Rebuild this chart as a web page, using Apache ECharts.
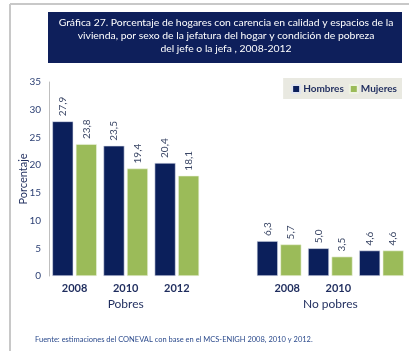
<!DOCTYPE html>
<html>
<head>
<meta charset="utf-8">
<script src="https://cdn.jsdelivr.net/npm/echarts@6/dist/echarts.min.js"></script>
<style>
  html, body { margin: 0; padding: 0; background: #ffffff; }
  #chart { width: 409px; height: 351px; }
</style>
</head>
<body>
<div id="chart"></div>
<script>
// Households lacking adequate housing quality and space, by sex of the head of household
const years = ['2008', '2010', '2012'];
const groups = ['Pobres', 'No pobres'];
const pobresHombres = [27.9, 23.5, 20.4];
const pobresMujeres = [23.8, 19.4, 18.1];
const noPobresHombres = [6.3, 5.0, 4.6];
const noPobresMujeres = [5.7, 3.5, 4.6];
// year labels under each slot (one empty spacer slot between the groups)
const tickLabels = ['2008', '2010', '2012', '', '2008', '2010', ''];
const yTicks = [0, 5, 10, 15, 20, 25, 30, 35];

const navy = '#0b1f5b';
const green = '#9bbb59';
const textNavy = '#1f2d5e';
const fontFam = 'Lato, "Open Sans", sans-serif';

// one slot per bar pair, with a blank slot separating the two groups
const slots = tickLabels.map((_, i) => String(i));
const hombres = [...pobresHombres, null, ...noPobresHombres];
const mujeres = [...pobresMujeres, null, ...noPobresMujeres];
const groupSlot = { 1: groups[0], 5: groups[1] };

const fmt = v => v.toFixed(1).replace('.', ',');

const valueLabel = {
  show: true,
  position: 'top',
  rotate: 90,
  align: 'left',
  verticalAlign: 'middle',
  distance: 5,
  fontSize: 10,
  fontFamily: fontFam,
  color: '#3b4766',
  formatter: p => fmt(p.value)
};

const chart = echarts.init(document.getElementById('chart'), null, { renderer: 'canvas' });

chart.setOption({
  animation: false,
  textStyle: { fontFamily: fontFam },
  graphic: [
    // page frame
    { type: 'line', shape: { x1: 10, y1: 4, x2: 409, y2: 4 }, style: { stroke: '#c8c8c8', lineWidth: 2 }, silent: true },
    { type: 'line', shape: { x1: 10, y1: 4, x2: 10, y2: 351 }, style: { stroke: '#c8c8c8', lineWidth: 2 }, silent: true },
    // title band
    { type: 'rect', shape: { x: 48, y: 12, width: 354, height: 51 }, style: { fill: '#0e1f5b' }, silent: true },
    {
      type: 'text', x: 226, y: 16,
      style: {
        text: 'Gráfica 27. Porcentaje de hogares con carencia en calidad y espacios de la\nvivienda, por sexo de la jefatura del hogar y condición de pobreza\ndel jefe o la jefa , 2008-2012',
        fill: '#ffffff', font: '10.4px ' + fontFam, align: 'center', verticalAlign: 'top', lineHeight: 13
      },
      silent: true
    },
    // source note
    {
      type: 'text', x: 35, y: 340,
      style: {
        text: 'Fuente: estimaciones del CONEVAL con base en el MCS-ENIGH 2008, 2010 y 2012.',
        fill: '#2b4a8c', font: '7.5px ' + fontFam, align: 'left', verticalAlign: 'middle'
      },
      silent: true
    }
  ],
  legend: {
    right: 7,
    top: 78,
    backgroundColor: '#e9e9e1',
    padding: [6, 5, 5, 8],
    itemWidth: 8,
    itemHeight: 8,
    itemGap: 5,
    icon: 'rect',
    textStyle: { color: textNavy, fontSize: 10, fontWeight: 'bold', fontFamily: fontFam, padding: [0, 0, 0, -2] },
    data: ['Hombres', 'Mujeres']
  },
  grid: { left: 49, right: 2, top: 82, bottom: 75, containLabel: false },
  xAxis: [
    {
      type: 'category',
      data: slots,
      axisLine: { show: false },
      axisTick: { show: false },
      axisLabel: {
        interval: 0,
        margin: 7,
        fontSize: 11,
        fontWeight: 'bold',
        color: textNavy,
        formatter: (v, i) => {
          const t = tickLabels[i];
          if (!t) return '';
          return i >= 4 ? '{s|' + t + '}' : t;
        },
        rich: { s: { padding: [0, 0, 0, 16], fontSize: 11, fontWeight: 'bold', color: textNavy, fontFamily: fontFam } }
      }
    },
    {
      type: 'category',
      data: slots,
      position: 'bottom',
      offset: 20,
      axisLine: { show: false },
      axisTick: { show: false },
      axisLabel: {
        interval: 0,
        margin: 2,
        fontSize: 12,
        color: textNavy,
        formatter: (v, i) => groupSlot[i] || ''
      }
    }
  ],
  yAxis: {
    type: 'value',
    min: yTicks[0],
    max: yTicks[yTicks.length - 1],
    interval: 5,
    name: 'Porcentaje',
    nameLocation: 'middle',
    nameGap: 20,
    nameMoveOverlap: false,
    nameTextStyle: { color: textNavy, fontSize: 11, fontFamily: fontFam },
    axisLine: { show: true, lineStyle: { color: '#bfbfbf', width: 1 } },
    axisTick: { show: false },
    splitLine: { show: false },
    axisLabel: { margin: 8, fontSize: 10, color: '#2b3f73' }
  },
  series: [
    {
      name: 'Hombres',
      type: 'bar',
      data: hombres,
      barWidth: 21,
      barGap: '12%',
      itemStyle: { color: navy, borderColor: '#dfe3ee', borderWidth: 0.6 },
      label: valueLabel
    },
    {
      name: 'Mujeres',
      type: 'bar',
      data: mujeres,
      barWidth: 21,
      itemStyle: { color: green, borderColor: '#eef3e2', borderWidth: 0.6 },
      label: valueLabel
    }
  ]
});
</script>
</body>
</html>
